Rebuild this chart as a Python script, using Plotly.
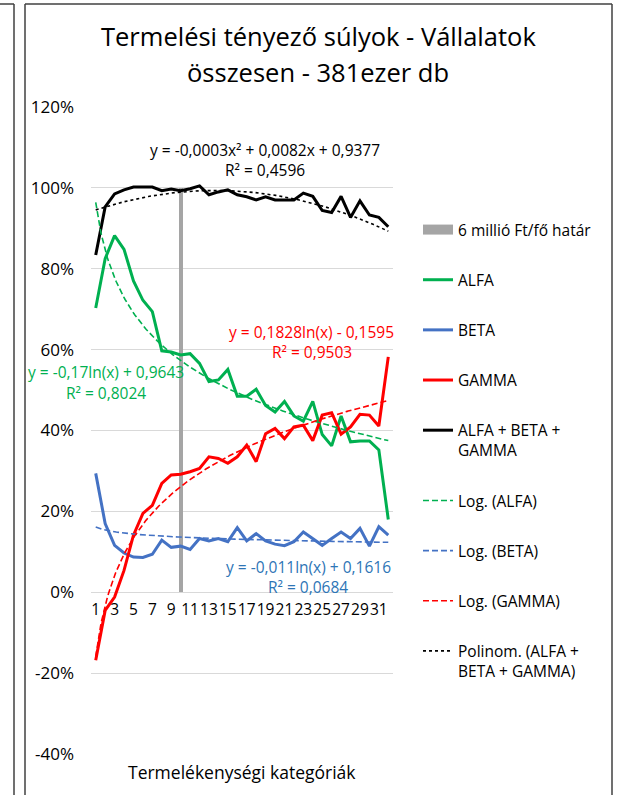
import plotly.graph_objects as go
import numpy as np

# categories 1..32 (termelékenységi kategóriák)
categories = list(range(1, 33))

alfa = [0.703, 0.825, 0.882, 0.848, 0.770, 0.722, 0.694, 0.597, 0.594, 0.587,
        0.590, 0.566, 0.521, 0.525, 0.551, 0.485, 0.485, 0.502, 0.462, 0.446,
        0.472, 0.436, 0.423, 0.472, 0.390, 0.362, 0.436, 0.372, 0.374, 0.374,
        0.352, 0.180]
beta = [0.294, 0.170, 0.116, 0.097, 0.087, 0.086, 0.094, 0.129, 0.111, 0.114,
        0.106, 0.133, 0.127, 0.133, 0.125, 0.160, 0.127, 0.145, 0.127, 0.119,
        0.115, 0.125, 0.149, 0.133, 0.116, 0.133, 0.149, 0.133, 0.158, 0.114,
        0.162, 0.141]
gamma = [-0.168, -0.045, -0.012, 0.054, 0.141, 0.195, 0.215, 0.269, 0.290, 0.292,
         0.298, 0.306, 0.335, 0.331, 0.319, 0.335, 0.364, 0.323, 0.392, 0.405,
         0.380, 0.409, 0.413, 0.375, 0.438, 0.444, 0.391, 0.409, 0.440, 0.438,
         0.411, 0.582]
total = [0.834, 0.953, 0.985, 0.995, 1.002, 1.002, 1.002, 0.993, 0.997, 0.993,
         0.998, 1.005, 0.983, 0.990, 0.995, 0.983, 0.978, 0.970, 0.978, 0.970,
         0.970, 0.970, 0.987, 0.979, 0.944, 0.939, 0.979, 0.927, 0.968, 0.933,
         0.927, 0.904]

# 6 millió Ft/fő határ
threshold_cat = [10]
threshold_val = [1.0]

# y axis ticks
y_tick_vals = [-0.4, -0.2, 0, 0.2, 0.4, 0.6, 0.8, 1.0, 1.2]
y_tick_text = ["-40%", "-20%", "0%", "20%", "40%", "60%", "80%", "100%", "120%"]

# trendline coefficients as printed on the chart
log_alfa = (-0.17, 0.9643)
log_beta = (-0.011, 0.1616)
log_gamma = (0.1828, -0.1595)
poly_total = (-0.0003, 0.0082, 0.9377)

FONT = "Open Sans"
GREEN = "#00b050"
BLUE = "#4472c4"
RED = "#ff0000"

xs = np.linspace(1, 32, 300)

fig = go.Figure()

fig.add_trace(go.Bar(
    x=threshold_cat, y=threshold_val, width=0.45,
    marker=dict(color="#a5a5a5", line=dict(width=0)),
    showlegend=False, legendgroup="g0", hoverinfo="skip"
))
# legend entry for the bar (wide grey swatch like the original)
fig.add_trace(go.Scatter(
    x=[None], y=[None], mode="lines",
    line=dict(color="#a5a5a5", width=10),
    name="6 millió Ft/fő határ", legendgroup="g0"
))

series = [
    ("ALFA", alfa, GREEN),
    ("BETA", beta, BLUE),
    ("GAMMA", gamma, RED),
    ("ALFA + BETA +<br>GAMMA", total, "black"),
]
for i, (name, vals, col) in enumerate(series):
    fig.add_trace(go.Scatter(
        x=categories, y=vals, mode="lines",
        line=dict(color=col, width=3),
        name=name, legendgroup=f"g{i + 1}"
    ))

trends = [
    ("Log. (ALFA)", log_alfa[0] * np.log(xs) + log_alfa[1], GREEN, "6px,3px"),
    ("Log. (BETA)", log_beta[0] * np.log(xs) + log_beta[1], BLUE, "6px,3px"),
    ("Log. (GAMMA)", log_gamma[0] * np.log(xs) + log_gamma[1], RED, "6px,3px"),
    ("Polinom. (ALFA +<br>BETA + GAMMA)",
     poly_total[0] * xs ** 2 + poly_total[1] * xs + poly_total[2], "black", "dot"),
]
for i, (name, vals, col, dash) in enumerate(trends):
    fig.add_trace(go.Scatter(
        x=xs, y=vals, mode="lines",
        line=dict(color=col, width=1.6, dash=dash),
        name=name, legendgroup=f"t{i}"
    ))

# trendline equation labels
labels = [
    (18.9, 1.094, "y = -0,0003x² + 0,0082x + 0,9377", "black"),
    (18.9, 1.045, "R² = 0,4596", "black"),
    (23.9, 0.644, "y = 0,1828ln(x) - 0,1595", RED),
    (23.9, 0.595, "R² = 0,9503", RED),
    (2.1, 0.545, "y = -0,17ln(x) + 0,9643", GREEN),
    (2.1, 0.492, "R² = 0,8024", GREEN),
    (23.5, 0.063, "y = -0,011ln(x) + 0,1616", "#2e75b6"),
    (23.5, 0.013, "R² = 0,0684", "#2e75b6"),
]
for x, y, txt, col in labels:
    fig.add_annotation(x=x, y=y, text=txt, showarrow=False,
                       font=dict(family=FONT, size=15.5, color=col),
                       xanchor="center", yanchor="middle")

W, L, PW, T, PH, H = 626, 91, 302, 107, 647, 795
def px(v):
    return (v - L) / PW
def py(v):
    return (T + PH - v) / PH

# chart title (two lines)
for txt, yc in [("Termelési tényező súlyok - Vállalatok", 36),
                ("összesen - 381ezer db", 72)]:
    fig.add_annotation(x=px(318), y=py(yc), xref="paper", yref="paper",
                       text=txt, showarrow=False,
                       font=dict(family=FONT, size=25.5, color="black"),
                       xanchor="center", yanchor="middle")

# x-axis title
fig.add_annotation(x=0.5, y=py(772), xref="paper", yref="paper",
                   text="Termelékenységi kategóriák", showarrow=False,
                   font=dict(family=FONT, size=17.5, color="black"),
                   xanchor="center", yanchor="middle")

# frame lines (chart border and neighbouring panel edge)
frame = dict(color="#404040", width=1.5)
fig.add_shape(type="line", xref="paper", yref="paper", x0=px(14), x1=px(14), y0=py(4), y1=py(800), line=frame)
fig.add_shape(type="line", xref="paper", yref="paper", x0=px(0), x1=px(14), y0=py(4), y1=py(4), line=frame)
fig.add_shape(type="line", xref="paper", yref="paper", x0=px(25), x1=px(25), y0=py(4), y1=py(800), line=frame)
fig.add_shape(type="line", xref="paper", yref="paper", x0=px(25), x1=px(612), y0=py(4), y1=py(4), line=frame)
fig.add_shape(type="line", xref="paper", yref="paper", x0=px(612), x1=px(612), y0=py(4), y1=py(800), line=frame)

fig.update_layout(
    width=W, height=H,
    margin=dict(l=L, r=W - L - PW, t=T, b=H - T - PH),
    paper_bgcolor="white", plot_bgcolor="white",
    font=dict(family=FONT, size=15, color="black"),
    xaxis=dict(
        range=[0.5, 32.5], tickvals=categories[::2], ticktext=[str(c) for c in categories[::2]],
        showgrid=False, zeroline=False, showline=False, ticks="", tickangle=0,
        anchor="free", position=0.25, ticklabelstandoff=6,
        tickfont=dict(family=FONT, size=15.5, color="black")
    ),
    yaxis=dict(
        range=[-0.4, 1.2], tickvals=y_tick_vals, ticktext=y_tick_text,
        showgrid=True, gridcolor="#d9d9d9", gridwidth=1,
        zeroline=False, showline=False, ticks="", ticklabelstandoff=16,
        tickfont=dict(family=FONT, size=17, color="black")
    ),
    legend=dict(
        x=px(418), y=py(213), xanchor="left", yanchor="top",
        bgcolor="rgba(0,0,0,0)", font=dict(family=FONT, size=15.5, color="black"),
        tracegroupgap=27, itemwidth=30, valign="top", traceorder="grouped"
    ),
    showlegend=True,
    bargap=0,
)

fig.write_html("out.html", config={"displayModeBar": False},
               post_script="document.body.style.margin='0';")
